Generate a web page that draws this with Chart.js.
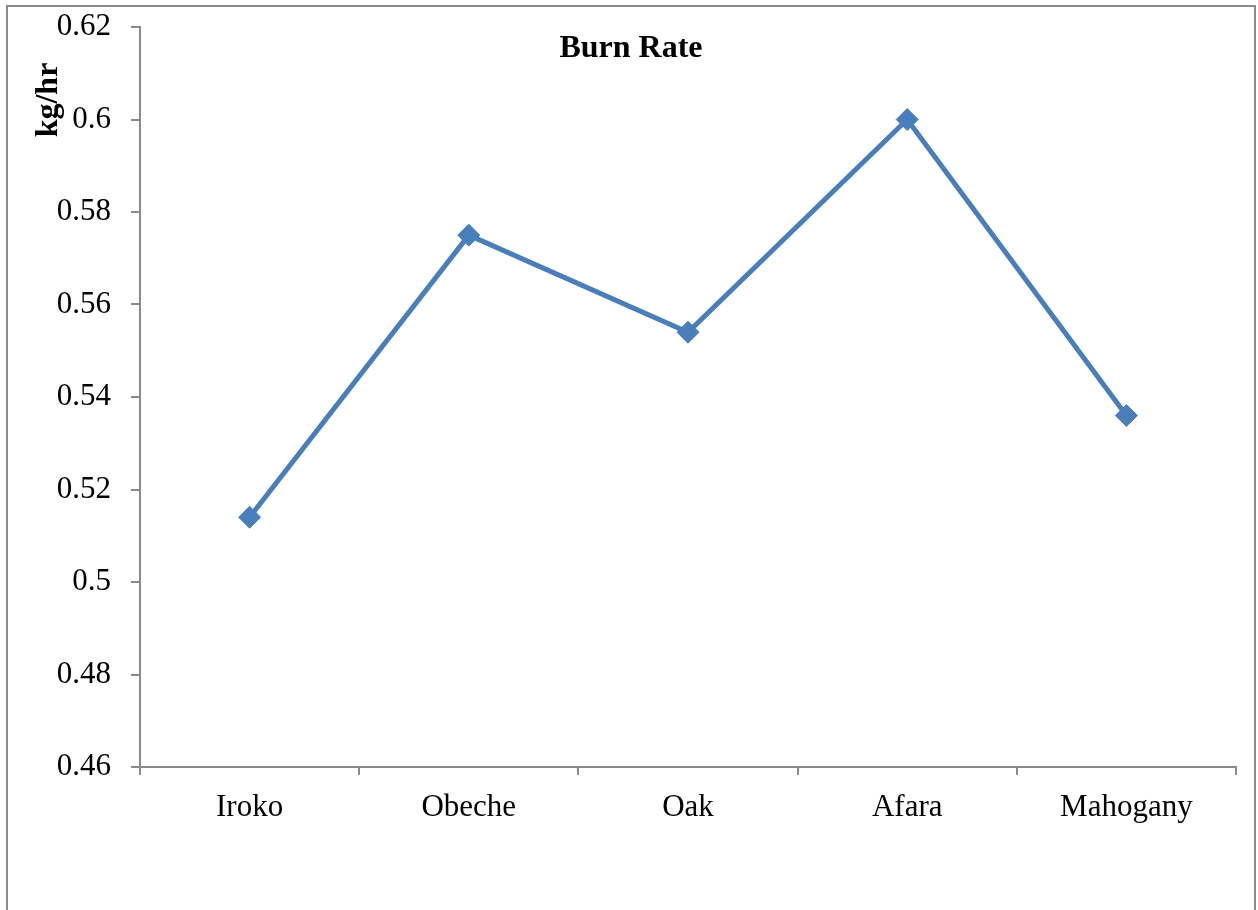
<!DOCTYPE html>
<html>
<head>
<meta charset="utf-8">
<script src="https://cdn.jsdelivr.net/npm/chart.js@4"></script>
<style>
html,body{margin:0;padding:0;background:#fff;}
#wrap{position:relative;width:1258px;height:910px;}
</style>
</head>
<body>
<div id="wrap"><canvas id="c" width="1258" height="910"></canvas></div>
<script>
const categories = ["Iroko", "Obeche", "Oak", "Afara", "Mahogany"];
const burnRate = [0.514, 0.575, 0.554, 0.600, 0.536];
const yTicks = [0.46, 0.48, 0.5, 0.52, 0.54, 0.56, 0.58, 0.6, 0.62];
const chartTitle = "Burn Rate";
const yTitle = "kg/hr";

const FONT = "'Liberation Serif', 'Times New Roman', serif";
const GRAY = '#8a8a8a';

const decor = {
  id: 'decor',
  beforeDraw(chart) {
    const ctx = chart.ctx;
    ctx.save();
    ctx.strokeStyle = GRAY;
    ctx.lineWidth = 2;
    ctx.strokeRect(7, 6, 1248, 1000);
    ctx.restore();
  },
  afterDraw(chart) {
    const ctx = chart.ctx;
    ctx.save();
    ctx.fillStyle = '#000';
    ctx.font = "bold 32px " + FONT;
    ctx.textAlign = 'center';
    ctx.textBaseline = 'middle';
    ctx.fillText(chartTitle, 631, 49);
    ctx.translate(49, 100);
    ctx.rotate(-Math.PI / 2);
    ctx.fillText(yTitle, 0, 0);
    ctx.restore();
  }
};

new Chart(document.getElementById('c'), {
  type: 'line',
  data: {
    labels: categories,
    datasets: [{
      data: burnRate,
      borderColor: '#4a7ebb',
      backgroundColor: '#4a7ebb',
      borderWidth: 5,
      pointStyle: 'rectRot',
      pointRadius: 11,
      pointBorderWidth: 1,
      pointBorderColor: '#4a7ebb',
      pointBackgroundColor: '#4a7ebb',
      tension: 0
    }]
  },
  options: {
    responsive: false,
    animation: false,
    devicePixelRatio: 1,
    layout: { padding: { left: 0, top: 27, right: 22, bottom: 0 } },
    plugins: { legend: { display: false }, tooltip: { enabled: false }, title: { display: false } },
    scales: {
      x: {
        type: 'category',
        offset: true,
        grid: { display: true, offset: true, drawOnChartArea: false, drawTicks: true, tickLength: 8, color: GRAY, lineWidth: 2 },
        border: { display: true, color: GRAY, width: 2 },
        ticks: { color: '#000', font: { family: FONT, size: 31 }, padding: 14, maxRotation: 0 },
        afterFit(scale) { scale.height = 143; scale.paddingLeft = 0; scale.paddingRight = 0; }
      },
      y: {
        min: 0.46, max: 0.62,
        afterBuildTicks(scale) { scale.ticks = yTicks.map(v => ({ value: v })); },
        grid: { display: true, drawOnChartArea: false, drawTicks: true, tickLength: 9, color: GRAY, lineWidth: 2 },
        border: { display: true, color: GRAY, width: 2 },
        ticks: { color: '#000', font: { family: FONT, size: 31 }, padding: 20, callback: v => String(+v.toFixed(2)) },
        afterFit(scale) { scale.width = 140; scale.paddingTop = 0; scale.paddingBottom = 0; }
      }
    }
  },
  plugins: [decor]
});
</script>
</body>
</html>
